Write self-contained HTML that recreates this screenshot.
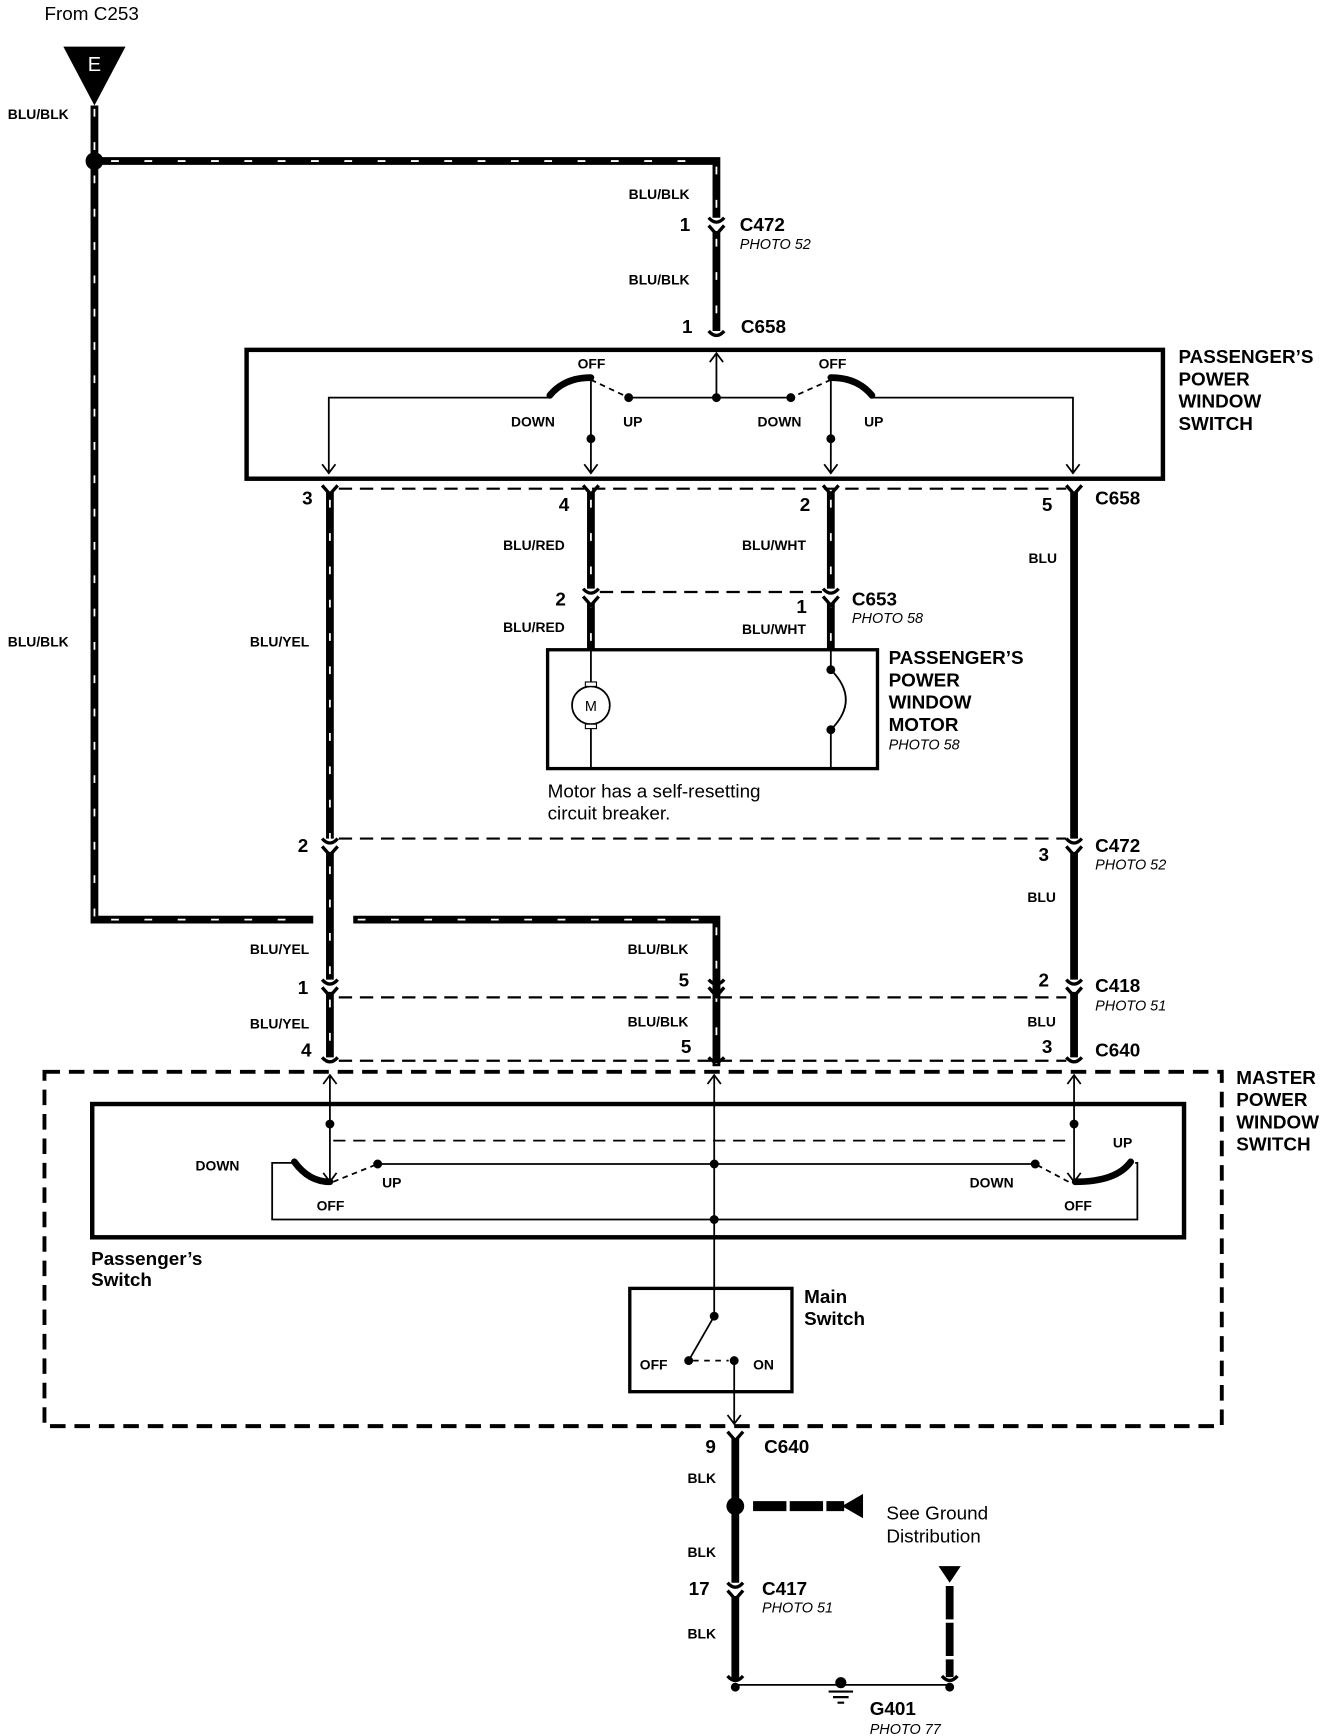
<!DOCTYPE html>
<html><head><meta charset="utf-8"><style>
html,body{margin:0;padding:0;background:#fff;}
svg{display:block;}
text{font-family:"Liberation Sans",sans-serif;fill:#000;}
.s{font-size:12.5px;font-weight:bold;}
.c{font-size:17px;font-weight:bold;}
.p{font-size:13px;font-style:italic;}
.n{font-size:17px;}
.L{font-size:17px;font-weight:bold;}
</style></head><body>
<svg width="1344" height="1736" viewBox="0 0 1210 1563" xmlns="http://www.w3.org/2000/svg">
<defs>
<g id="cu"><path d="M-7,-6 Q0,2 7,-6" fill="none" stroke="#000" stroke-width="3"/></g>
<g id="cd"><path d="M-7,1 L0,9 L7,1" fill="none" stroke="#000" stroke-width="3"/></g>
</defs>
<text x="40" y="18" class="n">From C253</text>
<!-- E triangle -->
<polygon points="57,42 113,42 85,95" fill="#000"/>
<text x="85" y="64" text-anchor="middle" font-size="18" style="fill:#fff">E</text>

<!-- thick wires -->
<g stroke="#000" stroke-width="7" fill="none">
<path d="M85,95 V828 H282"/>
<path d="M318,828 H645 V960"/>
<path d="M85,145 H645 V196"/>
<path d="M645,208 V298"/>
<path d="M297,443 V755"/><path d="M297,767 V882"/><path d="M297,893 V952"/>
<path d="M532,443 V530"/><path d="M532,542 V585"/>
<path d="M748,443 V530"/><path d="M748,542 V585"/>
<path d="M967,443 V755"/><path d="M967,767 V882"/><path d="M967,893 V952"/>
<path d="M645,883 V893"/>
<path d="M662,1295 V1425"/><path d="M662,1437 V1512"/>
</g>
<!-- tracers -->
<g stroke="#fff" stroke-width="1.6" fill="none" stroke-dasharray="7 23">
<path d="M85,98 V825"/>
<path d="M100,145 H640"/><path d="M100,828 H280"/><path d="M322,828 H640"/>
<path d="M645,150 V196"/><path d="M645,215 V295"/>
<path d="M297,450 V950"/><path d="M532,450 V580"/><path d="M748,450 V580"/>
<path d="M645,835 V958"/>
</g>
<circle cx="85" cy="145" r="8" fill="#000"/>

<!-- connectors -->
<g>
<use href="#cu" x="645" y="202"/><use href="#cd" x="645" y="202"/>
<use href="#cu" x="645" y="304"/>
<use href="#cd" x="297" y="436"/><use href="#cd" x="532" y="436"/><use href="#cd" x="748" y="436"/><use href="#cd" x="967" y="436"/>
<use href="#cu" x="532" y="536"/><use href="#cd" x="532" y="536"/>
<use href="#cu" x="748" y="536"/><use href="#cd" x="748" y="536"/>
<use href="#cu" x="297" y="761"/><use href="#cd" x="297" y="761"/>
<use href="#cu" x="967" y="761"/><use href="#cd" x="967" y="761"/>
<use href="#cu" x="297" y="888"/><use href="#cd" x="297" y="888"/>
<use href="#cu" x="645" y="888"/><use href="#cd" x="645" y="888"/>
<use href="#cu" x="967" y="888"/><use href="#cd" x="967" y="888"/>
<use href="#cu" x="297" y="958"/><use href="#cu" x="645" y="958"/><use href="#cu" x="967" y="958"/>
<use href="#cd" x="662" y="1288"/>
<use href="#cu" x="662" y="1431"/><use href="#cd" x="662" y="1431"/>
<use href="#cu" x="662" y="1515"/><use href="#cu" x="855" y="1515"/>
</g>
<!-- dashed connector lines -->
<g stroke="#000" stroke-width="2" stroke-dasharray="12 7" fill="none">
<path d="M305,440 H960"/><path d="M540,533 H740"/><path d="M305,755 H960"/>
<path d="M305,898 H960"/><path d="M305,955 H960"/>
</g>

<!-- passenger switch box -->
<rect x="222" y="315" width="825" height="116" fill="none" stroke="#000" stroke-width="4"/>
<g stroke="#000" stroke-width="1.6" fill="none">
<path d="M645,358 V318"/><path d="M639,326 L645,318 L651,326"/>
<path d="M296,425 V358 H495"/><path d="M566,358 H712"/><path d="M785,358 H966 V425"/>
<path d="M290,418 L296,426 L302,418"/><path d="M960,418 L966,426 L972,418"/>
<path d="M532,342 V425"/><path d="M526,418 L532,426 L538,418"/>
<path d="M748,342 V425"/><path d="M742,418 L748,426 L754,418"/>
<path d="M532,342 L566,358" stroke-dasharray="5 4"/>
<path d="M748,342 L712,358" stroke-dasharray="5 4"/>
</g>
<g fill="none" stroke="#000" stroke-width="6" stroke-linecap="round">
<path d="M495,356 Q508,340 532,340"/>
<path d="M785,356 Q772,340 748,340"/>
</g>
<g fill="#000"><circle cx="645" cy="358" r="4"/><circle cx="566" cy="358" r="4"/><circle cx="712" cy="358" r="4"/><circle cx="532" cy="395" r="4"/><circle cx="748" cy="395" r="4"/></g>
<text x="520" y="332" class="s">OFF</text><text x="737" y="332" class="s">OFF</text>
<text x="460" y="384" class="s">DOWN</text><text x="561" y="384" class="s">UP</text>
<text x="682" y="384" class="s">DOWN</text><text x="778" y="384" class="s">UP</text>
<text x="1061" y="327" class="L">PASSENGER’S</text><text x="1061" y="347" class="L">POWER</text><text x="1061" y="367" class="L">WINDOW</text><text x="1061" y="387" class="L">SWITCH</text>

<!-- motor -->
<rect x="493" y="585" width="297" height="107" fill="none" stroke="#000" stroke-width="3"/>
<path d="M532,585 V618 M532,652 V692" stroke="#000" stroke-width="1.6"/>
<circle cx="532" cy="635" r="17" fill="#fff" stroke="#000" stroke-width="1.6"/>
<rect x="527" y="614" width="10" height="4" fill="#fff" stroke="#000"/>
<rect x="527" y="652" width="10" height="4" fill="#fff" stroke="#000"/>
<text x="532" y="640" text-anchor="middle" font-size="13">M</text>
<path d="M748,585 V603 M748,657 V692" stroke="#000" stroke-width="1.6"/>
<path d="M748,603 Q775,630 748,657" fill="none" stroke="#000" stroke-width="1.6"/>
<circle cx="748" cy="603" r="4"/><circle cx="748" cy="657" r="4"/>
<text x="800" y="598" class="L">PASSENGER’S</text><text x="800" y="618" class="L">POWER</text><text x="800" y="638" class="L">WINDOW</text><text x="800" y="658" class="L">MOTOR</text><text x="800" y="675" class="p">PHOTO 58</text>
<text x="493" y="718" class="n">Motor has a self-resetting</text><text x="493" y="738" class="n">circuit breaker.</text>

<!-- wire labels -->
<text x="7" y="107" class="s">BLU/BLK</text><text x="7" y="582" class="s">BLU/BLK</text>
<text x="566" y="179" class="s">BLU/BLK</text><text x="566" y="256" class="s">BLU/BLK</text>
<text x="612" y="208" class="c">1</text><text x="666" y="208" class="c">C472</text><text x="666" y="224" class="p">PHOTO 52</text>
<text x="614" y="300" class="c">1</text><text x="667" y="300" class="c">C658</text>
<text x="272" y="454" class="c">3</text><text x="503" y="460" class="c">4</text><text x="720" y="460" class="c">2</text><text x="938" y="460" class="c">5</text><text x="986" y="454" class="c">C658</text>
<text x="453" y="495" class="s">BLU/RED</text><text x="668" y="495" class="s">BLU/WHT</text><text x="926" y="507" class="s">BLU</text>
<text x="500" y="545" class="c">2</text><text x="717" y="552" class="c">1</text><text x="767" y="545" class="c">C653</text><text x="767" y="561" class="p">PHOTO 58</text>
<text x="453" y="569" class="s">BLU/RED</text><text x="668" y="571" class="s">BLU/WHT</text>
<text x="225" y="582" class="s">BLU/YEL</text>
<text x="268" y="767" class="c">2</text><text x="935" y="775" class="c">3</text><text x="986" y="767" class="c">C472</text><text x="986" y="783" class="p">PHOTO 52</text>
<text x="925" y="812" class="s">BLU</text>
<text x="225" y="859" class="s">BLU/YEL</text><text x="565" y="859" class="s">BLU/BLK</text>
<text x="268" y="895" class="c">1</text><text x="611" y="888" class="c">5</text><text x="935" y="888" class="c">2</text><text x="986" y="893" class="c">C418</text><text x="986" y="910" class="p">PHOTO 51</text>
<text x="225" y="926" class="s">BLU/YEL</text><text x="565" y="924" class="s">BLU/BLK</text><text x="925" y="924" class="s">BLU</text>
<text x="271" y="951" class="c">4</text><text x="613" y="948" class="c">5</text><text x="938" y="948" class="c">3</text><text x="986" y="951" class="c">C640</text>

<!-- master switch -->
<rect x="40" y="965" width="1060" height="319" fill="none" stroke="#000" stroke-width="3.5" stroke-dasharray="14 8"/>
<text x="1113" y="976" class="L">MASTER</text><text x="1113" y="996" class="L">POWER</text><text x="1113" y="1016" class="L">WINDOW</text><text x="1113" y="1036" class="L">SWITCH</text>
<rect x="83" y="994" width="983" height="120" fill="none" stroke="#000" stroke-width="4"/>
<g stroke="#000" stroke-width="1.6" fill="none">
<path d="M297,968 V1064"/><path d="M291,976 L297,968 L303,976"/>
<path d="M643,968 V1098"/><path d="M637,976 L643,968 L649,976"/>
<path d="M967,968 V1064"/><path d="M961,976 L967,968 L973,976"/>
<path d="M291,1056 L297,1064 L303,1056"/><path d="M961,1056 L967,1064 L973,1056"/>
<path d="M300,1027 H962" stroke-dasharray="11 7"/>
<path d="M340,1048 H932"/>
<path d="M263,1047 H245 V1098 H1024 V1047 H1022"/>
<path d="M300,1064 L340,1048" stroke-dasharray="5 4"/>
<path d="M962,1064 L932,1048" stroke-dasharray="5 4"/>
</g>
<g fill="none" stroke="#000" stroke-width="6" stroke-linecap="round">
<path d="M265,1046 Q278,1064 297,1064"/>
<path d="M1018,1046 Q1005,1064 968,1064"/>
</g>
<g fill="#000"><circle cx="297" cy="1012" r="4"/><circle cx="967" cy="1012" r="4"/><circle cx="340" cy="1048" r="4"/><circle cx="932" cy="1048" r="4"/><circle cx="643" cy="1048" r="4"/><circle cx="643" cy="1098" r="4"/></g>
<text x="176" y="1054" class="s">DOWN</text><text x="344" y="1069" class="s">UP</text><text x="285" y="1090" class="s">OFF</text>
<text x="1002" y="1033" class="s">UP</text><text x="873" y="1069" class="s">DOWN</text><text x="958" y="1090" class="s">OFF</text>
<text x="82" y="1139" class="c">Passenger’s</text><text x="82" y="1158" class="c">Switch</text>
<!-- main switch -->
<rect x="567" y="1160" width="146" height="93" fill="none" stroke="#000" stroke-width="3"/>
<g stroke="#000" stroke-width="1.6" fill="none">
<path d="M643,1098 V1185 L620,1225"/>
<path d="M624,1225 H656" stroke-dasharray="5 5"/>
<path d="M661,1225 V1282"/><path d="M655,1274 L661,1282 L667,1274"/>
</g>
<g fill="#000"><circle cx="643" cy="1185" r="4"/><circle cx="620" cy="1225" r="4"/><circle cx="661" cy="1225" r="4"/></g>
<text x="576" y="1233" class="s" font-size="14">OFF</text><text x="678" y="1233" class="s" font-size="14">ON</text>
<text x="724" y="1173" class="c">Main</text><text x="724" y="1193" class="c">Switch</text>

<!-- ground -->
<text x="635" y="1308" class="c">9</text><text x="688" y="1308" class="c">C640</text>
<text x="619" y="1335" class="s">BLK</text>
<circle cx="662" cy="1356" r="8" fill="#000"/>
<path d="M678,1356 H760" stroke="#000" stroke-width="9" stroke-dasharray="30 3"/>
<polygon points="758,1356 777,1345 777,1367" fill="#000"/>
<text x="798" y="1368" class="n">See Ground</text><text x="798" y="1389" class="n">Distribution</text>
<text x="619" y="1402" class="s">BLK</text>
<text x="620" y="1436" class="c">17</text><text x="686" y="1436" class="c">C417</text><text x="686" y="1452" class="p">PHOTO 51</text>
<text x="619" y="1475" class="s">BLK</text>
<polygon points="845,1410 865,1410 855,1425" fill="#000"/>
<path d="M855,1428 V1510" stroke="#000" stroke-width="7" stroke-dasharray="30 3"/>
<path d="M662,1517 H855" stroke="#000" stroke-width="1.6"/>
<circle cx="662" cy="1519" r="4"/><circle cx="855" cy="1519" r="4"/>
<circle cx="757" cy="1515" r="5"/>
<path d="M746,1523 H768 M750,1528 H764 M754,1533 H760" stroke="#000" stroke-width="2"/>
<text x="783" y="1544" class="c">G401</text><text x="783" y="1561" class="p">PHOTO 77</text>
</svg>
</body></html>
